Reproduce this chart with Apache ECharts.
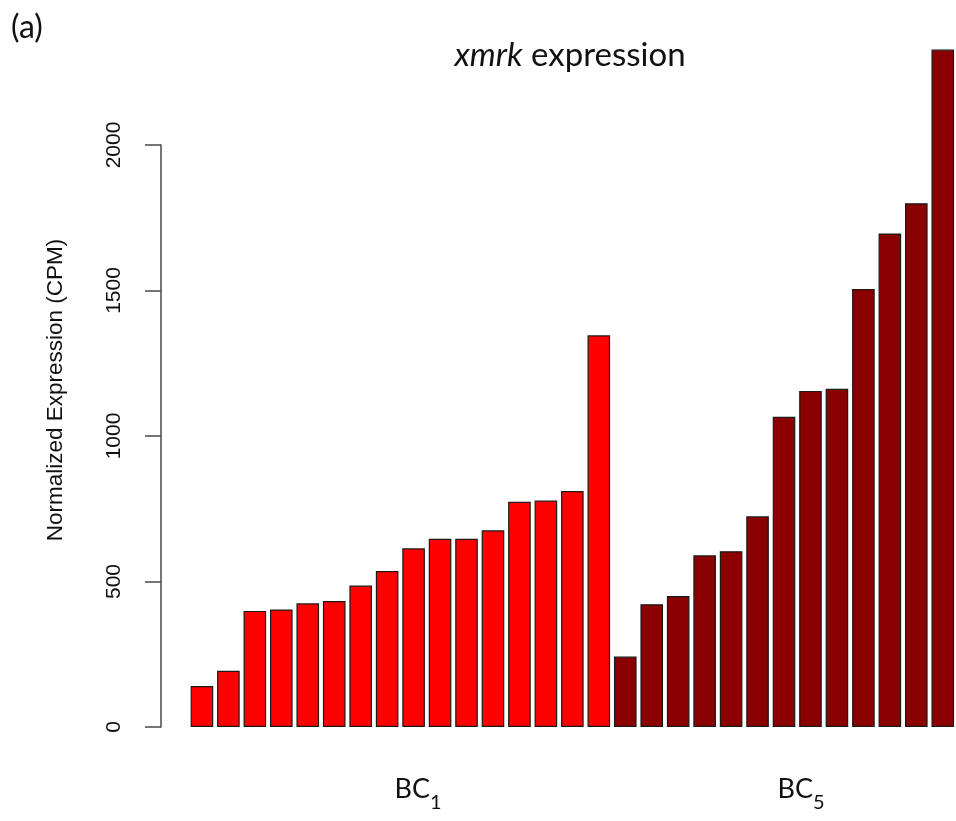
<!DOCTYPE html>
<html>
<head>
<meta charset="utf-8">
<title>xmrk expression</title>
<script src="https://cdn.jsdelivr.net/npm/echarts@6/dist/echarts.min.js"></script>
<style>
  html, body { margin: 0; padding: 0; background: #fff; }
  #chart { width: 956px; height: 821px; }
</style>
</head>
<body>
<div id="chart"></div>
<script>
// values (CPM), sorted within each group
const bc1Values = [141, 193, 399, 404, 425, 433, 486, 536, 614, 647, 647, 676, 774, 778, 811, 1346];
const bc5Values = [242, 422, 450, 590, 604, 724, 1066, 1155, 1162, 1505, 1696, 1800, 2328];
const yTicks = [0, 500, 1000, 1500, 2000];
const groupNames = ['BC1', 'BC5'];

const redColor = '#ff0000';
const darkRedColor = '#8b0000';

// one category per sample
const categories = bc1Values.map((v, i) => groupNames[0] + '_' + (i + 1))
  .concat(bc5Values.map((v, i) => groupNames[1] + '_' + (i + 1)));

const bc1Data = bc1Values.concat(bc5Values.map(() => '-'));
const bc5Data = bc1Values.map(() => '-').concat(bc5Values);

const chart = echarts.init(document.getElementById('chart'), null, { renderer: 'canvas' });

// subscript label like BC₁ under each group
function groupLabel(x, sub) {
  return {
    type: 'text',
    x: x,
    y: 789,
    style: {
      text: '{b|BC}{s|' + sub + '}',
      align: 'center',
      verticalAlign: 'middle',
      fill: '#111',
      rich: {
        b: { fontFamily: 'Lato', fontSize: 27, lineHeight: 47, fill: '#111' },
        s: { fontFamily: 'Lato', fontSize: 20, lineHeight: 47, verticalAlign: 'bottom', fill: '#111' }
      }
    }
  };
}

const option = {
  backgroundColor: '#ffffff',
  animation: false,
  grid: {
    left: 188.7,
    top: 145,
    width: 772,
    height: 582
  },
  xAxis: {
    type: 'category',
    data: categories,
    show: false
  },
  yAxis: {
    type: 'value',
    min: yTicks[0],
    max: yTicks[yTicks.length - 1],
    interval: 500,
    offset: 27.7,
    splitLine: { show: false },
    axisLine: { show: true, lineStyle: { color: '#4a4a4a', width: 1.5 } },
    axisTick: { show: true, length: 16, lineStyle: { color: '#4a4a4a', width: 1.5 } },
    axisLabel: {
      rotate: 90,
      margin: 36,
      color: '#111',
      fontFamily: 'Liberation Sans',
      fontSize: 21,
      formatter: v => String(v)
    },
    name: 'Normalized Expression (CPM)',
    nameLocation: 'middle',
    nameRotate: 90,
    nameGap: 94,
    nameTextStyle: {
      color: '#111',
      fontFamily: 'Liberation Sans',
      fontSize: 22.5,
      padding: [0, 0, 0, 92]
    }
  },
  series: [
    {
      name: groupNames[0],
      type: 'bar',
      data: bc1Data,
      barWidth: 22.6,
      barGap: '-100%',
      clip: false,
      itemStyle: { color: redColor, borderColor: '#1a1a1a', borderWidth: 1.2 }
    },
    {
      name: groupNames[1],
      type: 'bar',
      data: bc5Data,
      barWidth: 22.6,
      barGap: '-100%',
      clip: false,
      itemStyle: { color: darkRedColor, borderColor: '#1a1a1a', borderWidth: 1.2 }
    }
  ],
  graphic: [
    {
      type: 'text',
      left: 11,
      top: 12,
      style: { text: '(a)', fontFamily: 'Lato', fontSize: 32, fill: '#111' }
    },
    {
      type: 'text',
      x: 570,
      y: 55,
      style: {
        text: '{i|xmrk} expression',
        align: 'center',
        verticalAlign: 'middle',
        fontFamily: 'Lato',
        fontSize: 33,
        fill: '#111',
        rich: {
          i: { fontFamily: 'Lato', fontSize: 33, fontStyle: 'italic', fill: '#111' }
        }
      }
    },
    groupLabel(418, '1'),
    groupLabel(801, '5')
  ]
};

chart.setOption(option);
</script>
</body>
</html>
